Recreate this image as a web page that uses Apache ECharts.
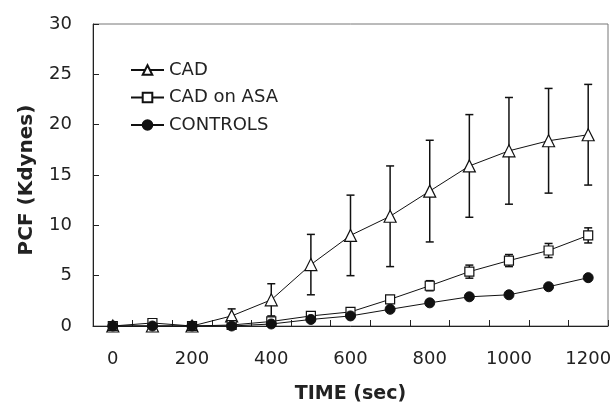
<!DOCTYPE html>
<html>
<head>
<meta charset="utf-8">
<script src="https://cdn.jsdelivr.net/npm/echarts@6/dist/echarts.min.js"></script>
<style>
  html, body { margin: 0; padding: 0; background: #fff; }
  #main { width: 613px; height: 404px; }
</style>
</head>
<body>
<div id="main"></div>
<script>
// x categories (sec)
var times = ['0', '100', '200', '300', '400', '500', '600', '700', '800', '900', '1000', '1100', '1200'];
// CAD
var cad = [0, 0, 0, 1.0, 2.6, 6.1, 9.0, 10.9, 13.4, 15.9, 17.4, 18.4, 19.0];
var cadErr = [0, 0, 0, 0.7, 1.6, 3.0, 4.0, 5.0, 5.05, 5.1, 5.3, 5.2, 5.0];
// CAD on ASA
var cadAsa = [0, 0.3, 0, 0.1, 0.45, 1.0, 1.4, 2.65, 4.0, 5.4, 6.5, 7.5, 9.0];
var cadAsaErr = [0, 0, 0, 0, 0, 0.2, 0.3, 0.3, 0.5, 0.65, 0.6, 0.7, 0.75];
// CONTROLS
var controls = [0, 0, 0, 0, 0.2, 0.65, 1.0, 1.66, 2.3, 2.9, 3.1, 3.9, 4.8];

var font = 'DejaVu Sans';

//误差线数据 [index, low, high]
function errData(vals, errs) {
  var out = [];
  for (var i = 0; i < vals.length; i++) {
    if (errs[i] > 0) {
      out.push([i, vals[i] - errs[i], vals[i] + errs[i]]);
    }
  }
  return out;
}

function renderErr(params, api) {
  var lo = api.coord([api.value(0), api.value(1)]);
  var hi = api.coord([api.value(0), api.value(2)]);
  var w = 4;
  var style = { stroke: '#111', lineWidth: 1.5 };
  return {
    type: 'group',
    children: [
      { type: 'line', shape: { x1: lo[0], y1: lo[1], x2: hi[0], y2: hi[1] }, style: style },
      { type: 'line', shape: { x1: lo[0] - w, y1: lo[1], x2: lo[0] + w, y2: lo[1] }, style: style },
      { type: 'line', shape: { x1: hi[0] - w, y1: hi[1], x2: hi[0] + w, y2: hi[1] }, style: style }
    ]
  };
}

var chart = echarts.init(document.getElementById('main'));
chart.setOption({
  animation: false,
  backgroundColor: '#fff',
  grid: {
    left: 93,
    right: 5,
    top: 24,
    bottom: 78,
    outerBoundsMode: 'none',
    show: true,
    borderColor: '#777',
    borderWidth: 1
  },
  legend: {
    orient: 'vertical',
    left: 130,
    top: 61,
    padding: 0,
    itemWidth: 33,
    itemHeight: 12,
    itemGap: 9.5,
    textStyle: { fontFamily: font, fontSize: 18, color: '#222' },
    data: ['CAD', 'CAD on ASA', 'CONTROLS']
  },
  xAxis: {
    type: 'category',
    data: times,
    boundaryGap: true,
    name: 'TIME (sec)',
    nameLocation: 'middle',
    nameGap: 59,
    nameTextStyle: { fontFamily: font, fontSize: 19, fontWeight: 'bold', color: '#222' },
    axisLine: { lineStyle: { color: '#222', width: 1 } },
    axisTick: { show: true, inside: true, length: 6, interval: 0, lineStyle: { color: '#222' } },
    axisLabel: { interval: 1, margin: 24, fontFamily: font, fontSize: 18, color: '#222' },
    splitLine: { show: false }
  },
  yAxis: {
    type: 'value',
    min: 0,
    max: 30,
    interval: 5,
    name: 'PCF (Kdynes)',
    nameLocation: 'middle',
    nameGap: 56,
    nameTextStyle: { fontFamily: font, fontSize: 20, fontWeight: 'bold', color: '#222', padding: [0, 10, 0, 0] },
    axisLine: { show: true, lineStyle: { color: '#222', width: 1 } },
    axisTick: { show: true, inside: true, length: 6, lineStyle: { color: '#222' } },
    axisLabel: { margin: 21, fontFamily: font, fontSize: 18, color: '#222' },
    splitLine: { show: false }
  },
  series: [
    {
      name: 'cadErr',
      type: 'custom',
      renderItem: renderErr,
      data: errData(cad, cadErr),
      z: 1,
      silent: true
    },
    {
      name: 'cadAsaErr',
      type: 'custom',
      renderItem: renderErr,
      data: errData(cadAsa, cadAsaErr),
      z: 1,
      silent: true
    },
    {
      name: 'CAD',
      type: 'line',
      data: cad,
      symbol: 'triangle',
      symbolSize: 12,
      lineStyle: { color: '#111', width: 1 },
      itemStyle: { color: '#fff', borderColor: '#111', borderWidth: 1.2 },
      z: 3
    },
    {
      name: 'CAD on ASA',
      type: 'line',
      data: cadAsa,
      symbol: 'rect',
      symbolSize: 9,
      lineStyle: { color: '#111', width: 1 },
      itemStyle: { color: '#fff', borderColor: '#111', borderWidth: 1.2 },
      z: 4
    },
    {
      name: 'CONTROLS',
      type: 'line',
      data: controls,
      symbol: 'circle',
      symbolSize: 10,
      lineStyle: { color: '#111', width: 1 },
      itemStyle: { color: '#111', borderColor: '#111', borderWidth: 1 },
      z: 5
    }
  ]
});
window.addEventListener('resize', function () {
  chart.resize();
});
</script>
</body>
</html>
